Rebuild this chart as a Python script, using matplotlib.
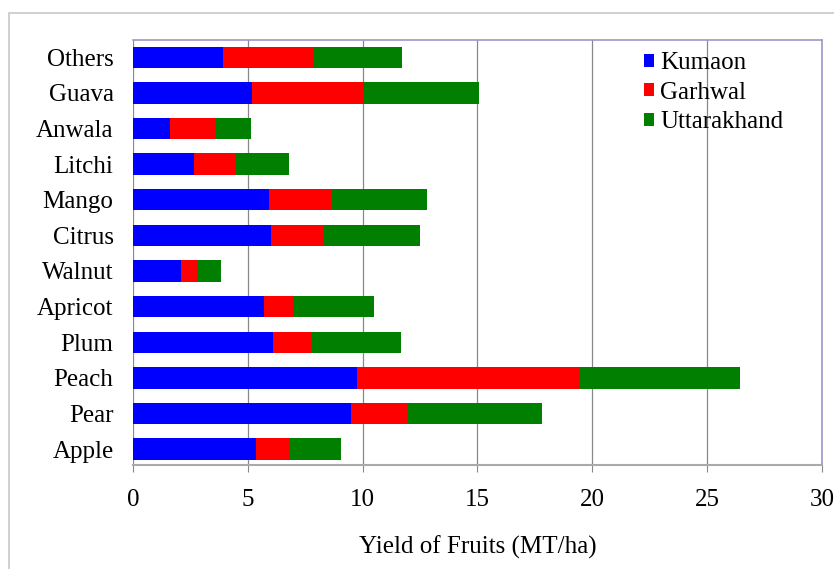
import matplotlib
matplotlib.use("Agg")
import matplotlib.pyplot as plt
from matplotlib.patches import Rectangle

categories = ["Apple", "Pear", "Peach", "Plum", "Apricot", "Walnut",
              "Citrus", "Mango", "Litchi", "Anwala", "Guava", "Others"]
kumaon = [5.35, 9.5, 9.75, 6.1, 5.7, 2.1, 6.0, 5.9, 2.65, 1.6, 5.2, 3.9]
garhwal = [1.5, 2.45, 9.65, 1.65, 1.25, 0.7, 2.3, 2.75, 1.85, 1.95, 4.8, 3.95]
uttarakhand = [2.2, 5.85, 7.05, 3.9, 3.55, 1.05, 4.2, 4.15, 2.3, 1.6, 5.05, 3.85]
series_names = ["Kumaon", "Garhwal", "Uttarakhand"]
colors = ["#0000ff", "#ff0000", "#007f00"]
xticks = [0, 5, 10, 15, 20, 25, 30]

plt.rcParams['font.family'] = ['Liberation Serif', 'DejaVu Serif']

fig = plt.figure(figsize=(8.34, 5.69), dpi=100)
fig.patch.set_facecolor("white")
fig.patches.append(Rectangle((0.011, -0.01), 0.995, 0.988, transform=fig.transFigure,
                             fill=False, edgecolor="#c8c8c8", linewidth=1.2))
ax = fig.add_axes([0.1595, 0.182, 0.826, 0.748])

y = list(range(len(categories)))
left = [0.0] * len(categories)
for name, vals, c in zip(series_names, [kumaon, garhwal, uttarakhand], colors):
    ax.barh(y, vals, left=left, height=0.6, color=c, label=name, zorder=3)
    left = [l + v for l, v in zip(left, vals)]

ax.set_xlim(0, 30)
ax.set_ylim(-0.46, len(categories) - 0.51)
ax.set_xticks(xticks)
ax.set_xticklabels([str(t) for t in xticks])
ax.set_yticks(y)
ax.set_yticklabels(categories)
ax.tick_params(axis='y', length=0, labelsize=18, pad=14)
ax.tick_params(axis='x', length=5, direction='out', color="#888888", labelsize=18, pad=12)
ax.xaxis.grid(True, color="#888888", linewidth=0.9, zorder=0)
ax.set_axisbelow(True)
for side in ["top", "right"]:
    ax.spines[side].set_color("#9a9ac8")
    ax.spines[side].set_linewidth(1.2)
ax.spines["left"].set_visible(False)
ax.spines["bottom"].set_color("#aaaaaa")
ax.spines["bottom"].set_linewidth(1.5)
ax.set_xlabel("Yield of Fruits (MT/ha)", fontsize=18, labelpad=18)

leg = ax.legend(loc="upper right", bbox_to_anchor=(0.966, 1.006), frameon=False,
                fontsize=18, handlelength=0.42, handleheight=0.42, handletextpad=0.25,
                labelspacing=0.3, borderaxespad=0.2)

fig.savefig("out.png", dpi=100, facecolor="white")
